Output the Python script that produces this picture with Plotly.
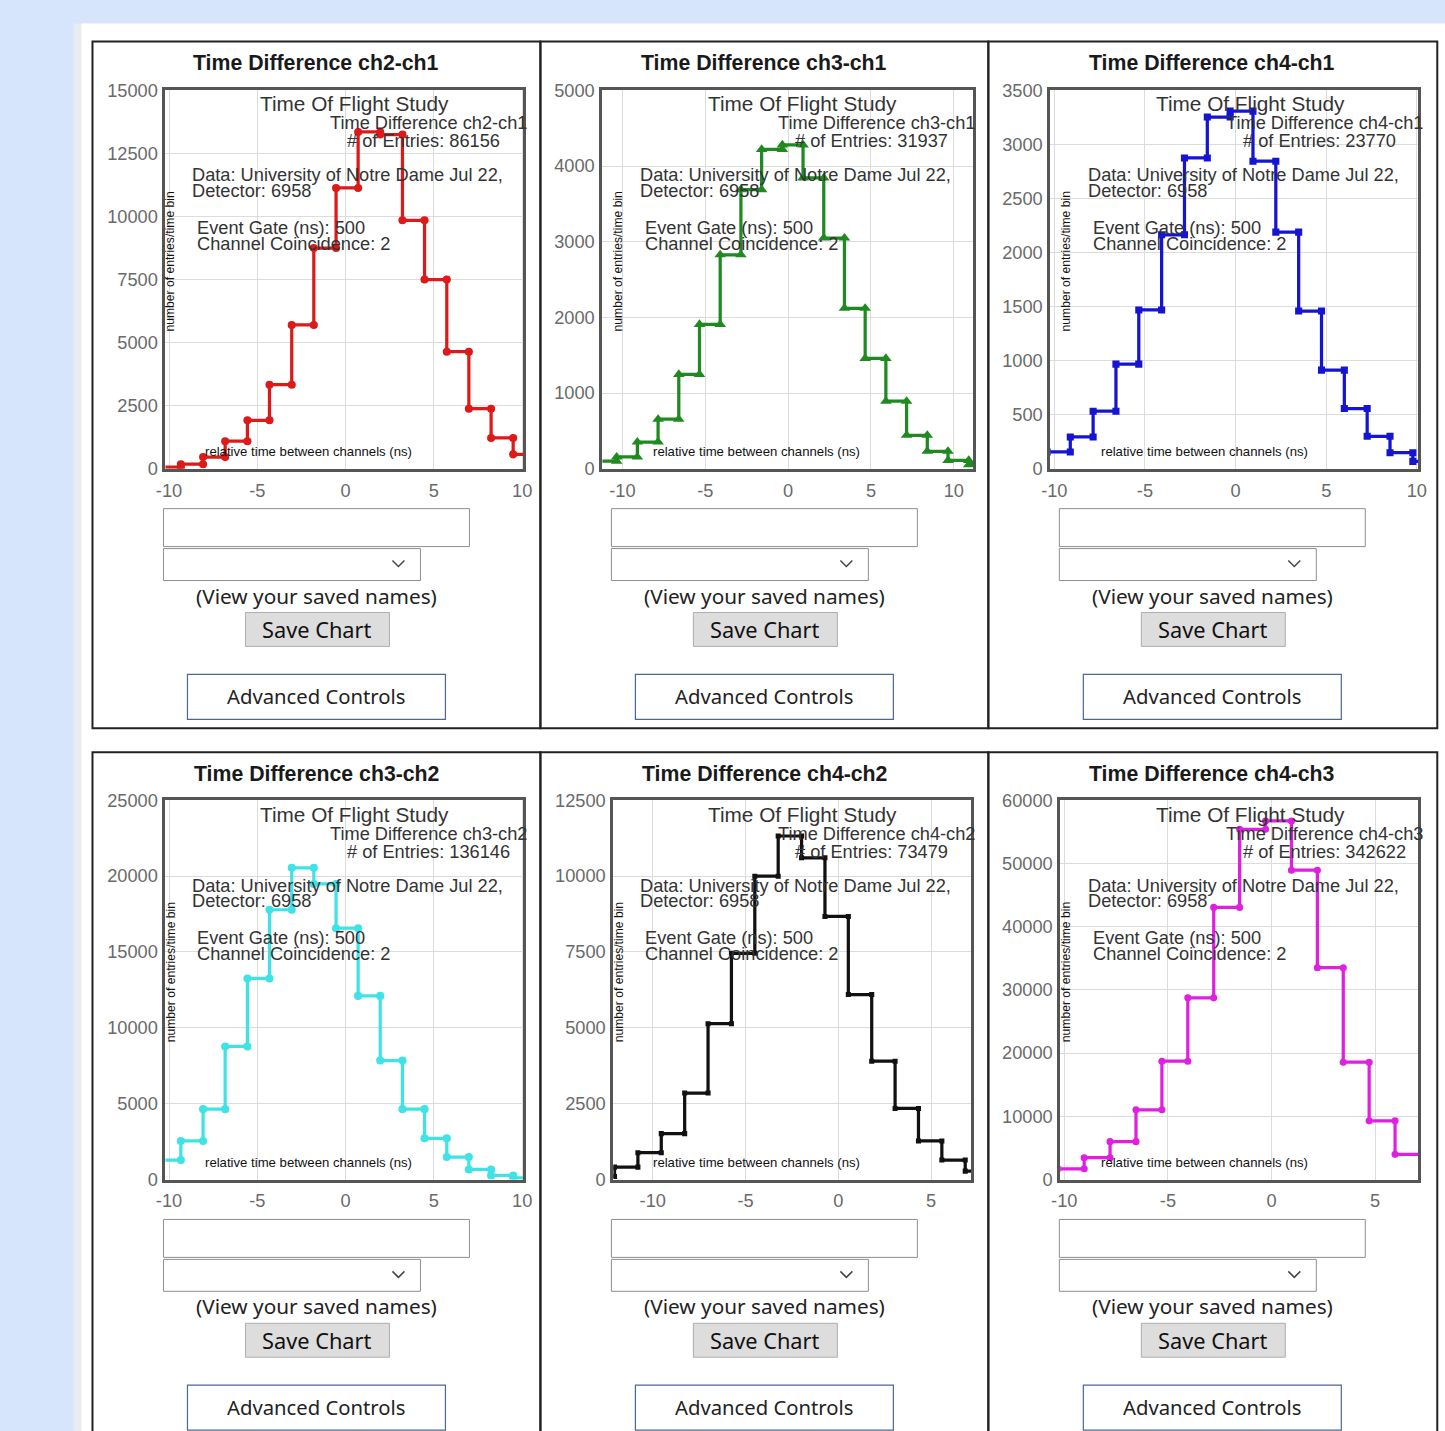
import plotly.graph_objects as go

W, H = 1445, 1431
# the photographed page comes back scaled by ~0.987 with ~9.5 px border;
# layout pixel positions below are given in reference-picture pixels and mapped through this.
S, PAD = 0.987, 9.5

# ---------------- chart data ----------------
titles = ["Time Difference ch2-ch1", "Time Difference ch3-ch1", "Time Difference ch4-ch1",
          "Time Difference ch3-ch2", "Time Difference ch4-ch2", "Time Difference ch4-ch3"]
entries = [86156, 31937, 23770, 136146, 73479, 342622]

edges_ch2_ch1 = [-10.58, -9.33, -8.07, -6.82, -5.56, -4.31, -3.05, -1.8, -0.54, 0.71,
                 1.96, 3.22, 4.47, 5.73, 6.98, 8.24, 9.49, 10.75]
counts_ch2_ch1 = [60, 180, 460, 1090, 1920, 3330, 5700, 8750, 11130, 13350,
                  13250, 9850, 7500, 4640, 2380, 1220, 570]

edges_ch3_ch1 = [-11.6, -10.35, -9.1, -7.85, -6.6, -5.35, -4.1, -2.85, -1.6, -0.35,
                 0.9, 2.15, 3.4, 4.65, 5.9, 7.15, 8.4, 9.65, 10.9, 12.15]
counts_ch3_ch1 = [100, 155, 353, 654, 1246, 1908, 2827, 3688, 4220, 4280,
                  3843, 3048, 2120, 1458, 892, 442, 230, 110, 53]

edges_ch4_ch1 = [-10.38, -9.12, -7.86, -6.6, -5.34, -4.08, -2.82, -1.56, -0.3, 0.96,
                 2.22, 3.48, 4.74, 6.0, 7.26, 8.52, 9.78, 11.04]
counts_ch4_ch1 = [155, 294, 532, 968, 1469, 2164, 2875, 3253, 3308, 2845,
                  2189, 1459, 912, 557, 300, 148, 68]

edges_ch3_ch2 = [-10.58, -9.33, -8.07, -6.82, -5.56, -4.31, -3.05, -1.8, -0.54, 0.71,
                 1.96, 3.22, 4.47, 5.73, 6.98, 8.24, 9.49, 10.75]
counts_ch3_ch2 = [1281, 2540, 4638, 8768, 13251, 17778, 20539, 19479, 16563, 12102,
                  7840, 4638, 2716, 1480, 663, 265, 110]

edges_ch4_ch2 = [-13.32, -12.06, -10.8, -9.54, -8.28, -7.02, -5.76, -4.5, -3.24, -1.98,
                 -0.72, 0.54, 1.8, 3.06, 4.32, 5.58, 6.84, 8.1]
counts_ch4_ch2 = [100, 409, 883, 1513, 2849, 5135, 7454, 9993, 11319, 10601,
                  8668, 6095, 3898, 2341, 1270, 640, 276]

edges_ch4_ch3 = [-10.29, -9.04, -7.79, -6.54, -5.29, -4.04, -2.79, -1.54, -0.29, 0.96,
                 2.21, 3.46, 4.71, 5.96, 7.21]
counts_ch4_ch3 = [1700, 3450, 5990, 11030, 18710, 28730, 43040, 55390, 56710, 48920,
                  33500, 18550, 9280, 3980]

all_edges = [edges_ch2_ch1, edges_ch3_ch1, edges_ch4_ch1, edges_ch3_ch2, edges_ch4_ch2, edges_ch4_ch3]
all_counts = [counts_ch2_ch1, counts_ch3_ch1, counts_ch4_ch1, counts_ch3_ch2, counts_ch4_ch2, counts_ch4_ch3]

x_ranges = [[-10.2, 10.07], [-11.21, 11.18], [-10.22, 10.08],
            [-10.2, 10.07], [-12.12, 7.17], [-10.19, 7.08]]
y_max = [15000, 5000, 3500, 25000, 12500, 60000]
y_dtick = [2500, 1000, 500, 5000, 2500, 10000]
x_tick_vals = [-10, -5, 0, 5, 10]
x_tick_text = ["-10", "-5", "0", "5", "10"]

# ---------------- styles ----------------
colors = ["#dd1a1a", "#1f8a1f", "#1414d2", "#3fe3e6", "#111111", "#e020e0"]
symbols = ["circle", "triangle-up", "square", "circle", "square", "circle"]
msizes = [8, 10, 7, 8, 5, 7]

CF = "Arial, 'Liberation Sans', sans-serif"
UF = "'Noto Sans', 'Open Sans', sans-serif"
BLUE_BG = "#d6e5fb"

panel_left = [92, 540, 988, 92, 540, 988]
panel_right = [540, 988, 1437, 540, 988, 1437]
panel_top = [40, 40, 40, 752, 752, 752]
panel_bottom = [728, 728, 728, 1480, 1480, 1480]
plot_x0 = [73, 62, 62, 73, 73, 72]
plot_x1 = [431, 433, 430, 431, 431, 430]
plot_y0 = [49, 49, 49, 48, 48, 48]
plot_y1 = [428, 428, 428, 428, 428, 428]


def PX(x):
    return ((x - PAD) / S) / W


def PY(y):
    return 1 - ((y - PAD) / S) / H


def fs(v):
    return v / S


def steps(edges, counts):
    xs, ys = [], []
    for i, c in enumerate(counts):
        xs += [edges[i], edges[i + 1]]
        ys += [c, c]
    return xs, ys


fig = go.Figure()
shapes = []
annotations = []

# page background pieces
shapes.append(dict(type="rect", xref="paper", yref="paper", x0=PX(73), x1=PX(W + 40),
                   y0=PY(H + 40), y1=PY(22), fillcolor="#e9ecef", line=dict(width=0), layer="below"))
shapes.append(dict(type="rect", xref="paper", yref="paper", x0=PX(81), x1=PX(W + 40),
                   y0=PY(H + 40), y1=PY(22), fillcolor="#ffffff", line=dict(width=0), layer="below"))

layout_axes = {}
for i in range(6):
    n = i + 1
    xa = "xaxis" if n == 1 else f"xaxis{n}"
    ya = "yaxis" if n == 1 else f"yaxis{n}"
    xr = "x" if n == 1 else f"x{n}"
    yr = "y" if n == 1 else f"y{n}"
    L, T = panel_left[i], panel_top[i]

    xs, ys = steps(all_edges[i], all_counts[i])
    fig.add_trace(go.Scatter(
        x=xs, y=ys, mode="lines+markers", xaxis=xr, yaxis=yr,
        line=dict(color=colors[i], width=fs(3.2)),
        marker=dict(symbol=symbols[i], size=fs(msizes[i]), color=colors[i]),
        showlegend=False, hoverinfo="skip"))

    layout_axes[xa] = dict(
        domain=[PX(L + plot_x0[i]), PX(L + plot_x1[i])], anchor=yr,
        range=x_ranges[i], tickmode="array", tickvals=x_tick_vals, ticktext=x_tick_text,
        showgrid=True, gridcolor="#dcdcdc", gridwidth=1, zeroline=False,
        showline=True, mirror=True, linecolor="#555555", linewidth=3,
        ticks="", ticklabelstandoff=3,
        tickfont=dict(family=CF, size=fs(18), color="#6a6a6a"), fixedrange=True)
    layout_axes[ya] = dict(
        domain=[PY(T + plot_y1[i]), PY(T + plot_y0[i])], anchor=xr,
        range=[0, y_max[i]], dtick=y_dtick[i], tick0=0,
        showgrid=True, gridcolor="#dcdcdc", gridwidth=1, zeroline=False,
        showline=True, mirror=True, linecolor="#555555", linewidth=3,
        ticks="", ticklabelstandoff=1, tickformat="d",
        tickfont=dict(family=CF, size=fs(18), color="#6a6a6a"), fixedrange=True)

    # panel border
    shapes.append(dict(type="rect", xref="paper", yref="paper",
                       x0=PX(L), x1=PX(panel_right[i]), y0=PY(panel_bottom[i]), y1=PY(T),
                       line=dict(color="#222222", width=2), fillcolor="rgba(0,0,0,0)", layer="below"))

    def ann(text, x, y, size, xanchor="left", color="#333333", font=CF, **kw):
        annotations.append(dict(text=text, xref="paper", yref="paper", x=PX(L + x), y=PY(T + y),
                                xanchor=xanchor, yanchor="middle", showarrow=False,
                                font=dict(family=font, size=fs(size), color=color), **kw))

    ann("<b>" + titles[i] + "</b>", 224, 22, 21, xanchor="center", color="#1a1a1a")
    ann("Time Of Flight Study", 166, 62, 20.5)
    ann(titles[i], 236, 81, 18)
    ann(f"# of Entries: {entries[i]}", 253, 99, 18)
    ann("Data: University of Notre Dame Jul 22,", 98, 133, 18)
    ann("Detector: 6958", 98, 149, 18)
    ann("Event Gate (ns): 500", 103, 186, 18)
    ann("Channel Coincidence: 2", 103, 202, 18)
    ann("number of entries/time bin", 78, 220, 12, xanchor="center", color="#111111", textangle=-90)
    ann("relative time between channels (ns)", 216, 411, 13, xanchor="center", color="#111111")

    # text input
    shapes.append(dict(type="rect", xref="paper", yref="paper",
                       x0=PX(L + 71), x1=PX(L + 377), y0=PY(T + 506), y1=PY(T + 468),
                       line=dict(color="#8f8f8f", width=1), fillcolor="#ffffff"))
    # dropdown
    shapes.append(dict(type="rect", xref="paper", yref="paper",
                       x0=PX(L + 71), x1=PX(L + 328), y0=PY(T + 540), y1=PY(T + 508),
                       line=dict(color="#8f8f8f", width=1), fillcolor="#ffffff"))
    shapes.append(dict(type="path", xref="paper", yref="paper",
                       path=f"M {PX(L + 300)} {PY(T + 520)} L {PX(L + 306)} {PY(T + 526)} L {PX(L + 312)} {PY(T + 520)}",
                       line=dict(color="#444444", width=1.5)))
    ann("(View your saved names)", 224, 555, 20.5, xanchor="center", color="#222222", font=UF)
    # Save Chart button
    shapes.append(dict(type="rect", xref="paper", yref="paper",
                       x0=PX(L + 153), x1=PX(L + 297), y0=PY(T + 606), y1=PY(T + 572),
                       line=dict(color="#adadad", width=1), fillcolor="#dddddd"))
    ann("Save Chart", 225, 589, 21.5, xanchor="center", color="#111111", font=UF)
    # Advanced Controls button
    shapes.append(dict(type="rect", xref="paper", yref="paper",
                       x0=PX(L + 95), x1=PX(L + 353), y0=PY(T + 679), y1=PY(T + 634),
                       line=dict(color="#4a6896", width=1.2), fillcolor="#ffffff"))
    ann("Advanced Controls", 224, 656, 20, xanchor="center", color="#222222", font=UF)

fig.update_layout(
    width=W, height=H, margin=dict(l=0, r=0, t=0, b=0),
    paper_bgcolor=BLUE_BG, plot_bgcolor="#ffffff",
    shapes=shapes, annotations=annotations, showlegend=False,
    **layout_axes)

page_js = ("document.body.style.margin='0';document.body.style.overflow='hidden';"
           "document.body.style.background='linear-gradient(" + BLUE_BG + "," + BLUE_BG +
           ") 0 0/100% 22px no-repeat, linear-gradient(" + BLUE_BG + "," + BLUE_BG +
           ") 0 0/73px 100% no-repeat, #ffffff';")
fig.write_html("out.html", config={"displayModeBar": False}, post_script=page_js)
